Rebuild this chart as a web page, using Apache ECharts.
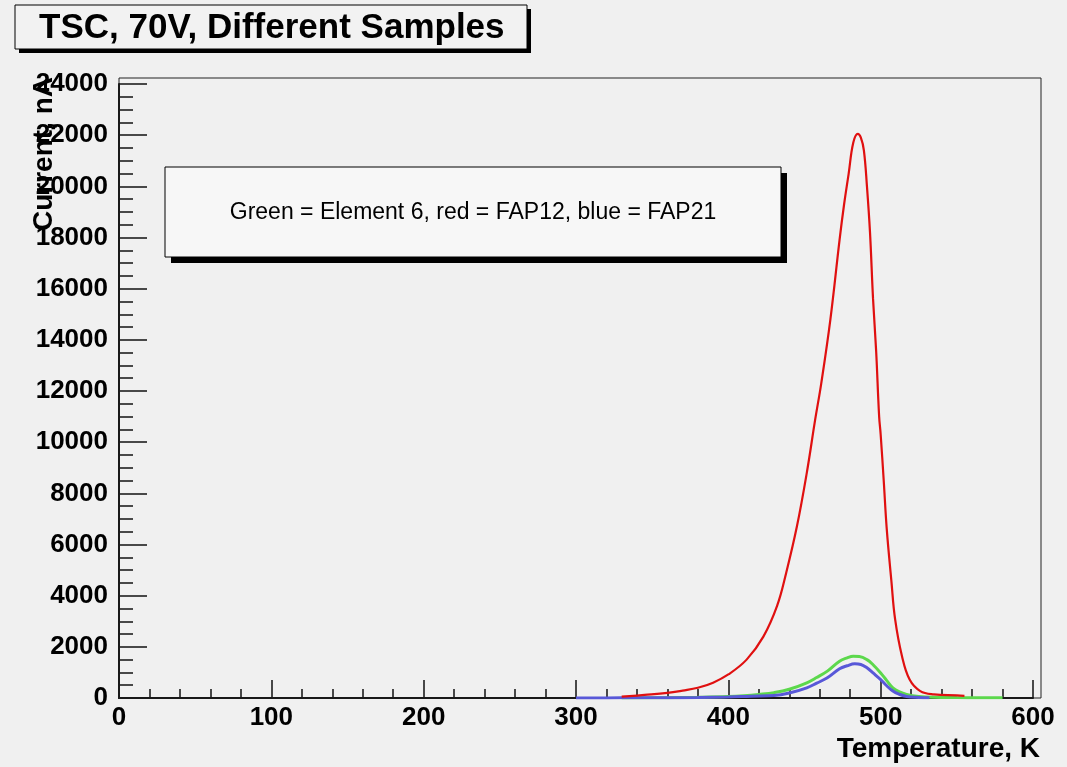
<!DOCTYPE html>
<html>
<head>
<meta charset="utf-8">
<script src="https://cdn.jsdelivr.net/npm/echarts@6/dist/echarts.min.js"></script>
<style>
html,body{margin:0;padding:0;background:#f0f0f0;}
#chart{width:1067px;height:767px;}
</style>
</head>
<body>
<div id="chart"></div>
<script>
// ---- data (Temperature K, Current nA) ----
const titleText = 'TSC, 70V, Different Samples';
const noteText = 'Green = Element 6, red = FAP12, blue = FAP21';
const xTitle = 'Temperature, K';
const yTitle = 'Current, nA';

const greenT = [330, 360, 380, 400, 410, 420, 430, 440, 451.5, 458, 465, 473, 478, 482, 486, 491, 495, 500, 504, 508, 512, 517, 525, 535, 550, 565, 580];
const greenV = [0, 10, 30, 60, 90, 140, 210, 340, 594, 800, 1050, 1440, 1570, 1630, 1620, 1500, 1300, 980, 680, 400, 250, 140, 60, 25, 15, 10, 5];

const blueT = [300, 330, 360, 380, 400, 415, 430, 440, 451.5, 458, 465, 473, 478, 483, 487, 491, 495, 500, 504, 508, 512, 517, 525, 532];
const blueV = [0, 5, 10, 20, 40, 70, 95, 195, 398, 580, 790, 1140, 1260, 1336, 1310, 1180, 980, 720, 480, 270, 150, 60, 20, 5];

const redT = [330, 345, 360, 370, 380, 390, 400, 412, 423, 432, 438, 445, 451.5, 457, 461, 467, 473, 476, 479, 482, 485, 487, 489, 491, 493, 495, 497, 499, 500, 502, 504, 507, 509.5, 514, 519, 526, 535, 550, 555];
const redV = [50, 120, 200, 290, 400, 600, 920, 1500, 2400, 3600, 4900, 6700, 8800, 10880, 12300, 14800, 17900, 19300, 20500, 21700, 22050, 21900, 21400, 20000, 18200, 15600, 13600, 11000, 10300, 8500, 6600, 4600, 3070, 1630, 720, 270, 140, 100, 80];

const xTicks = [0, 100, 200, 300, 400, 500, 600];
const yTicks = [0, 2000, 4000, 6000, 8000, 10000, 12000, 14000, 16000, 18000, 20000, 22000, 24000];

function pairs(t, v) { return t.map((x, i) => [x, v[i]]); }

const chart = echarts.init(document.getElementById('chart'), null, {renderer: 'canvas'});
const FONT = '"Liberation Sans", Arial, Helvetica, sans-serif';

const option = {
  backgroundColor: '#f0f0f0',
  animation: false,
  title: {
    text: titleText,
    left: 39, top: 11, padding: 0,
    textStyle: {fontFamily: FONT, fontWeight: 'bold', fontSize: 35, color: '#000', lineHeight: 35}
  },
  grid: {left: 119, top: 84, right: 34, bottom: 69, containLabel: false},
  xAxis: {
    type: 'value', min: xTicks[0], max: xTicks[xTicks.length - 1], interval: 100,
    axisLine: {show: true, onZero: false, lineStyle: {color: '#111', width: 2}},
    axisTick: {show: true, inside: true, length: 18, lineStyle: {color: '#111', width: 1.5}},
    minorTick: {show: true, splitNumber: 5, length: 9, lineStyle: {color: '#111', width: 1.5}},
    splitLine: {show: false},
    axisLabel: {margin: 7, fontFamily: FONT, fontWeight: 'bold', fontSize: 26, color: '#000',
                formatter: v => String(v)}
  },
  yAxis: {
    type: 'value', min: yTicks[0], max: yTicks[yTicks.length - 1], interval: 2000,
    axisLine: {show: true, onZero: false, lineStyle: {color: '#111', width: 2}},
    axisTick: {show: true, inside: true, length: 28, lineStyle: {color: '#111', width: 1.5}},
    minorTick: {show: true, splitNumber: 4, length: 14, lineStyle: {color: '#111', width: 1.5}},
    splitLine: {show: false},
    axisLabel: {margin: 11, fontFamily: FONT, fontWeight: 'bold', fontSize: 26, color: '#000',
                formatter: v => String(v)}
  },
  series: [
    {name: 'Element 6', type: 'line', data: pairs(greenT, greenV), showSymbol: false,
     smooth: 0.4, lineStyle: {color: '#5cd84c', width: 3}, itemStyle: {color: '#5cd84c'}},
    {name: 'FAP21', type: 'line', data: pairs(blueT, blueV), showSymbol: false,
     smooth: 0.4, lineStyle: {color: '#5858d8', width: 3}, itemStyle: {color: '#5858d8'}},
    {name: 'FAP12', type: 'line', data: pairs(redT, redV), showSymbol: false,
     smooth: 0.4, lineStyle: {color: '#e01010', width: 2.2}, itemStyle: {color: '#e01010'}}
  ],
  graphic: [
    // title box with shadow
    {type: 'rect', z: -10, silent: true, shape: {x: 19, y: 9, width: 512, height: 44}, style: {fill: '#000'}},
    {type: 'rect', z: -9, silent: true, shape: {x: 15, y: 5, width: 512, height: 44},
     style: {fill: '#f2f2f2', stroke: '#000', lineWidth: 1}},
    // plot frame (top/right border)
    {type: 'rect', z: 1, silent: true, shape: {x: 119, y: 78, width: 922, height: 620},
     style: {fill: null, stroke: '#222', lineWidth: 1}},
    // note box with shadow
    {type: 'rect', z: 10, shape: {x: 171, y: 173, width: 616, height: 90}, style: {fill: '#000'}},
    {type: 'rect', z: 11, shape: {x: 165, y: 167, width: 616, height: 90},
     style: {fill: '#f7f7f7', stroke: '#000', lineWidth: 1}},
    {type: 'text', z: 12, x: 473, y: 213,
     style: {text: noteText, fill: '#000', font: 'normal 23px ' + FONT, textAlign: 'center', textVerticalAlign: 'middle'}},
    // axis titles
    {type: 'text', z: 12, x: 1040, y: 749,
     style: {text: xTitle, fill: '#000', font: 'bold 28px ' + FONT, textAlign: 'right', textVerticalAlign: 'middle'}},
    {type: 'text', z: 12, x: 44, y: 77, rotation: Math.PI / 2,
     style: {text: yTitle, fill: '#000', font: 'bold 28px ' + FONT, textAlign: 'right', textVerticalAlign: 'middle'}}
  ]
};
chart.setOption(option);
</script>
</body>
</html>
